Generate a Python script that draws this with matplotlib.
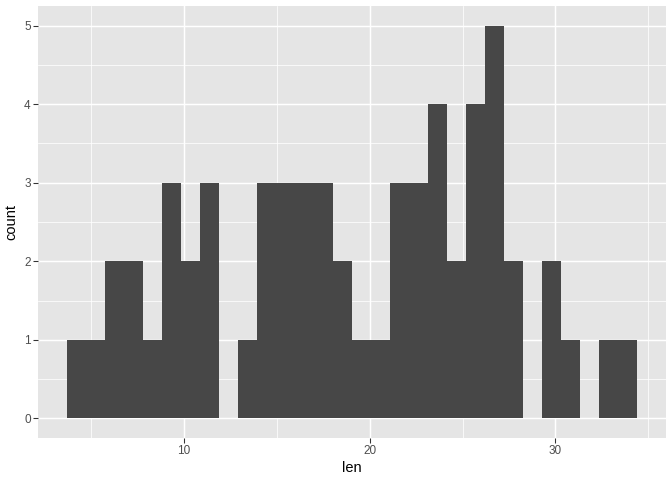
import numpy as np
import matplotlib
matplotlib.use("Agg")
import matplotlib.pyplot as plt

plt.rcParams["font.family"] = ["Liberation Sans", "DejaVu Sans"]

# ToothGrowth len, 30 bins (ggplot default)
len_min = 4.2
len_max = 33.9
n_bins = 30
counts = [1, 1, 2, 2, 1, 3, 2, 3, 0, 1, 3, 3, 3, 3, 2, 1, 1, 3, 3, 4, 2, 4, 5, 2, 0, 2, 1, 0, 1, 1]
x_ticks = [10, 20, 30]
y_ticks = [0, 1, 2, 3, 4, 5]

width = (len_max - len_min) / (n_bins - 1)
edges = len_min - width / 2 + width * np.arange(n_bins + 1)

fig = plt.figure(figsize=(7, 5), dpi=96)
ax = fig.add_axes([38 / 672, 1 - 438 / 480, (666 - 38) / 672, (438 - 6) / 480])
ax.set_facecolor("#E5E5E5")

ax.bar(edges[:-1], counts, width=width, align="edge", color="#474747", linewidth=0, zorder=3)

x0, x1 = edges[0], edges[-1]
xr = x1 - x0
ax.set_xlim(x0 - 0.05 * xr, x1 + 0.05 * xr)
ax.set_ylim(-0.25, 5.25)

ax.set_xticks(x_ticks)
ax.set_yticks(y_ticks)
ax.set_xticks([5, 15, 25, 35], minor=True)
ax.set_yticks([0.5, 1.5, 2.5, 3.5, 4.5], minor=True)
ax.grid(which="major", color="white", linewidth=1.1, zorder=1)
ax.grid(which="minor", color="white", linewidth=0.55, zorder=1)
for s in ax.spines.values():
    s.set_visible(False)
ax.tick_params(which="major", length=3.5, width=0.8, color="#333333", labelcolor="#4D4D4D", labelsize=8.8, pad=2)
ax.tick_params(which="minor", length=0)
ax.set_xlabel("len", fontsize=11, color="black", labelpad=3)
ax.set_ylabel("count", fontsize=11, color="black", labelpad=4)

fig.savefig("out.png", dpi=96)
